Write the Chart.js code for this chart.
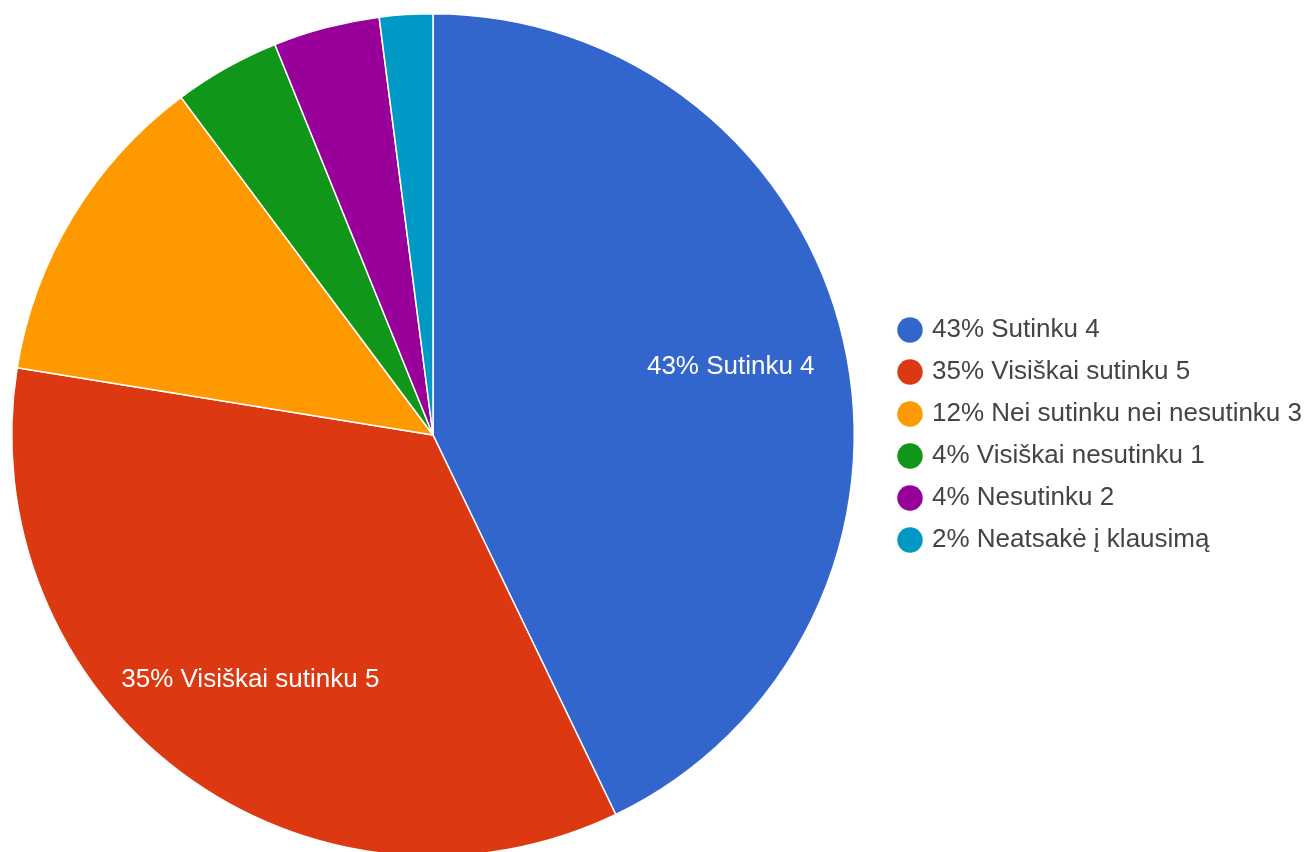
<!DOCTYPE html>
<html lang="lt">
<head>
    <meta charset="UTF-8">
    <title>Pie</title>
    <script src="https://cdn.jsdelivr.net/npm/chart.js@4.4.1/dist/chart.umd.min.js"></script>
    <style>
        html, body { margin: 0; padding: 0; background: #fff; overflow: hidden; }
        #wrap { position: absolute; left: -19px; top: 0; }
    </style>
</head>
<body>
<div id="wrap">
    <canvas id="pie" width="1324" height="870"></canvas>
</div>

<script>
    // data (49 answers)
    const categories = ['Sutinku 4', 'Visiškai sutinku 5', 'Nei sutinku nei nesutinku 3',
        'Visiškai nesutinku 1', 'Nesutinku 2', 'Neatsakė į klausimą'];
    const counts = [21, 17, 6, 2, 2, 1];
    const colors = ['#3366cc', '#dc3912', '#ff9900', '#109618', '#990099', '#0099c6'];

    const total = counts.reduce((a, b) => a + b, 0);
    const labels = categories.map((c, i) => Math.round(counts[i] / total * 100) + '% ' + c);

    const FONT = '"Liberation Sans", Arial, sans-serif';

    // white text inside the big slices
    const sliceLabels = {
        id: 'sliceLabels',
        afterDatasetsDraw(chart) {
            const ctx = chart.ctx;
            const arcs = chart.getDatasetMeta(0).data;
            ctx.save();
            ctx.font = '26px ' + FONT;
            ctx.fillStyle = '#ffffff';
            ctx.textAlign = 'center';
            ctx.textBaseline = 'middle';
            arcs.forEach((arc, i) => {
                if (counts[i] / total < 0.2) return;
                const mid = (arc.startAngle + arc.endAngle) / 2;
                const r = arc.outerRadius * 0.725;
                ctx.fillText(labels[i], arc.x + Math.cos(mid) * r, arc.y + Math.sin(mid) * r);
            });
            ctx.restore();
        }
    };

    new Chart(document.getElementById('pie'), {
        type: 'pie',
        data: {
            labels: labels,
            datasets: [{
                data: counts,
                backgroundColor: colors,
                borderColor: '#ffffff',
                borderWidth: 1.5
            }]
        },
        options: {
            responsive: false,
            animation: false,
            layout: { padding: { top: 13, bottom: 13, left: 0, right: 0 } },
            plugins: {
                tooltip: { enabled: false },
                legend: {
                    position: 'right',
                    maxWidth: 420,
                    labels: {
                        usePointStyle: true,
                        pointStyle: 'circle',
                        boxWidth: 18,
                        boxHeight: 18,
                        padding: 16,
                        color: '#444444',
                        font: { size: 26, family: FONT },
                        generateLabels(chart) {
                            const items = Chart.overrides.pie.plugins.legend.labels.generateLabels(chart);
                            items.forEach(it => { it.lineWidth = 0; });
                            return items;
                        }
                    }
                }
            }
        },
        plugins: [sliceLabels]
    });
</script>
</body>
</html>
